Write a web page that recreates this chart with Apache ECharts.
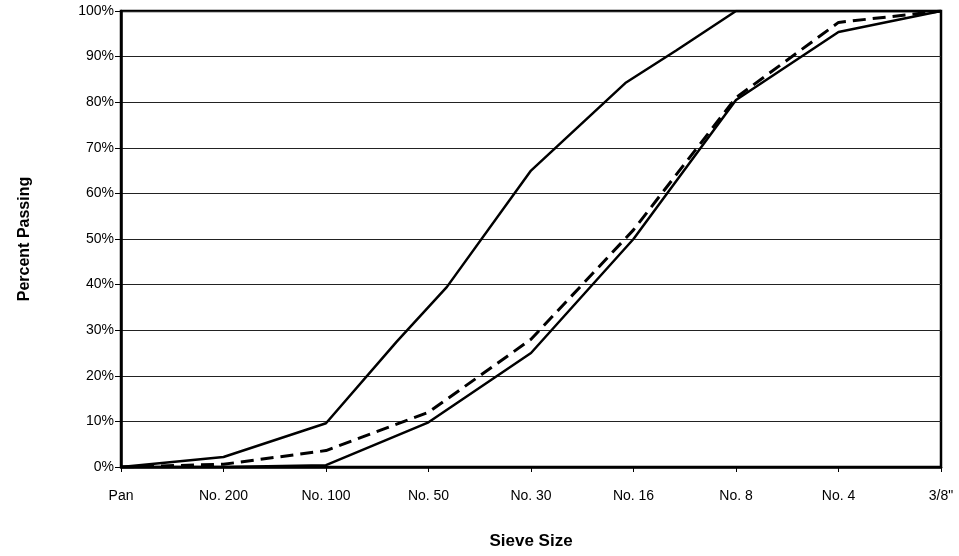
<!DOCTYPE html>
<html>
<head>
<meta charset="utf-8">
<script src="https://cdn.jsdelivr.net/npm/echarts@6/dist/echarts.min.js"></script>
<style>html,body{margin:0;padding:0;background:#fff}#c{width:959px;height:556px}</style>
</head>
<body>
<div id="c"></div>
<script>
var categories = ['Pan', 'No. 200', 'No. 100', 'No. 50', 'No. 30', 'No. 16', 'No. 8', 'No. 4', '3/8"'];
var yTicks = [0, 10, 20, 30, 40, 50, 60, 70, 80, 90, 100];

// Upper limit: sieve positions (category index, incl. intermediate points) and percent passing
var upperX = [0, 1, 2, 2.69, 3.18, 4, 4.92, 5.42, 6, 7, 8];
var upperY = [0, 2.2, 9.6, 27.5, 39.5, 65, 84.2, 91.4, 100, 100, 100];

// Lower limit
var lowerX = [0, 1, 2, 3, 4, 5, 6, 7, 8];
var lowerY = [0, 0, 0.4, 9.8, 25, 50, 80.5, 95.4, 100];

// Sample gradation (dashed)
var sampleX = [0, 1, 2, 3, 4, 5, 6, 7, 8];
var sampleY = [0, 0.6, 3.6, 12, 28, 52, 81, 97.5, 100];

function pairs(xs, ys) { return xs.map(function (x, i) { return [x, ys[i]]; }); }

var chart = echarts.init(document.getElementById('c'), null, { renderer: 'canvas' });
var font = 'Arial, "Liberation Sans", sans-serif';
chart.setOption({
  animation: false,
  backgroundColor: '#fff',
  grid: { left: 121, right: 18, top: 11, bottom: 89, show: true, borderColor: '#000', borderWidth: 2.5, backgroundColor: 'transparent' },
  xAxis: {
    type: 'value', min: 0, max: categories.length - 1, interval: 1,
    name: 'Sieve Size', nameLocation: 'middle', nameGap: 66,
    nameTextStyle: { fontFamily: font, fontWeight: 'bold', fontSize: 17, color: '#000' },
    axisLine: { show: true, lineStyle: { color: '#000', width: 2.5 } },
    axisTick: { show: true, length: 5, inside: false, lineStyle: { color: '#000', width: 1 } },
    splitLine: { show: false },
    axisLabel: {
      margin: 22, fontFamily: font, fontSize: 14, color: '#000',
      formatter: function (v) { return categories[Math.round(v)] || ''; }
    }
  },
  yAxis: {
    type: 'value', min: yTicks[0], max: yTicks[yTicks.length - 1], interval: 10,
    name: 'Percent Passing', nameLocation: 'middle', nameGap: 88,
    nameTextStyle: { fontFamily: font, fontWeight: 'bold', fontSize: 16, color: '#000' },
    axisLine: { show: true, lineStyle: { color: '#000', width: 2.5 } },
    axisTick: { show: true, length: 6, lineStyle: { color: '#000', width: 1 } },
    splitLine: { show: true, lineStyle: { color: '#222', width: 1 } },
    axisLabel: { margin: 7, padding: [8, 0, 0, 0], fontFamily: font, fontSize: 14, color: '#000', formatter: '{value}%' }
  },
  series: [
    { type: 'line', data: pairs(upperX, upperY), symbol: 'none', lineStyle: { color: '#000', width: 2.5 }, z: 3 },
    { type: 'line', data: pairs(lowerX, lowerY), symbol: 'none', lineStyle: { color: '#000', width: 2.5 }, z: 3 },
    { type: 'line', data: pairs(sampleX, sampleY), symbol: 'none', lineStyle: { color: '#000', width: 3, type: [13, 7] }, z: 4 }
  ]
});
</script>
</body>
</html>
